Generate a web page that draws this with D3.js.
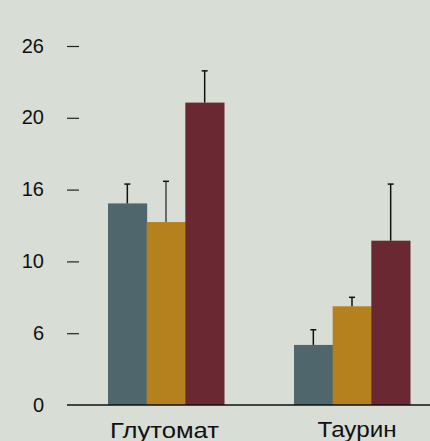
<!DOCTYPE html>
<html><head><meta charset="utf-8">
<script src="https://cdn.jsdelivr.net/npm/d3@7"></script>
<style>html,body{margin:0;padding:0;background:#d8ddd5;}svg{display:block;}</style>
</head><body>
<script>
const categories = ["Глутомат", "Таурин"];
const seriesNames = ["s1", "s2", "s3"];
const seriesColors = ["#4f666d", "#b5811f", "#6a2833"];
const values = [[14.6, 13.25, 21.9], [4.35, 7.15, 11.9]];
const errorTops = [[16.0, 16.2, 24.2], [5.45, 7.8, 16.0]];
const tickValues = [0, 5.2, 10.4, 15.6, 20.8, 26];
const tickLabels = ["0", "6", "10", "16", "20", "26"];

const W = 430, H = 441;
const svg = d3.select("body").append("svg").attr("width", W).attr("height", H);
svg.append("rect").attr("width", W).attr("height", H).attr("fill", "#d8ddd5");

const y = d3.scaleLinear().domain([0, 26]).range([405, 46]);
const x0 = d3.scaleBand().domain(categories).range([108, 410]).paddingInner(0.3763).paddingOuter(0);
const x1 = d3.scaleBand().domain(seriesNames).range([0, x0.bandwidth()]);

// y axis ticks
const yAxis = d3.axisLeft(y).tickValues(tickValues).tickSize(12).tickPadding(23)
  .tickFormat((d, i) => tickLabels[i]);
const ga = svg.append("g").attr("transform", "translate(79,0)").call(yAxis);
ga.select(".domain").remove();
ga.selectAll(".tick line").attr("stroke", "#222").attr("stroke-width", 1.2);
ga.selectAll(".tick text").attr("font-family", "Liberation Sans, Arial, sans-serif")
  .attr("font-size", 20).attr("fill", "#111").attr("dy", "0.3em");
ga.selectAll(".tick").filter(d => d === 0).select("line").remove();

// bars
const groups = svg.append("g").selectAll("g").data(categories).join("g")
  .attr("transform", d => `translate(${x0(d)},0)`);
groups.each(function(cat, ci) {
  const g = d3.select(this);
  seriesNames.forEach((s, si) => {
    const v = values[ci][si], e = errorTops[ci][si];
    const bx = x1(s), bw = x1.bandwidth(), cx = bx + bw / 2;
    g.append("rect").attr("x", bx).attr("y", y(v)).attr("width", bw + 0.5)
      .attr("height", y(0) - y(v)).attr("fill", seriesColors[si]);
    const ec = si === 1 && ci === 0 ? "#444" : "#111";
    g.append("line").attr("x1", cx).attr("x2", cx).attr("y1", y(v)).attr("y2", y(e))
      .attr("stroke", ec).attr("stroke-width", 1.5);
    g.append("line").attr("x1", cx - 3).attr("x2", cx + 3).attr("y1", y(e)).attr("y2", y(e))
      .attr("stroke", "#111").attr("stroke-width", 1.5);
  });
});

// baseline
svg.append("line").attr("x1", 67).attr("x2", W).attr("y1", y(0)).attr("y2", y(0))
  .attr("stroke", "#111").attr("stroke-width", 1.5);

// category labels
const labelX = [164.5, 357];
const labelY = [437.5, 436.5];
const labelW = [109, 79];
svg.selectAll("text.cat").data(categories).join("text").attr("class", "cat")
  .attr("x", (d, i) => labelX[i]).attr("y", (d, i) => labelY[i])
  .attr("text-anchor", "middle").attr("font-family", "Liberation Sans, Arial, sans-serif")
  .attr("font-size", 22).attr("fill", "#111")
  .attr("textLength", (d, i) => labelW[i]).attr("lengthAdjust", "spacingAndGlyphs")
  .text(d => d);
</script>
</body></html>
